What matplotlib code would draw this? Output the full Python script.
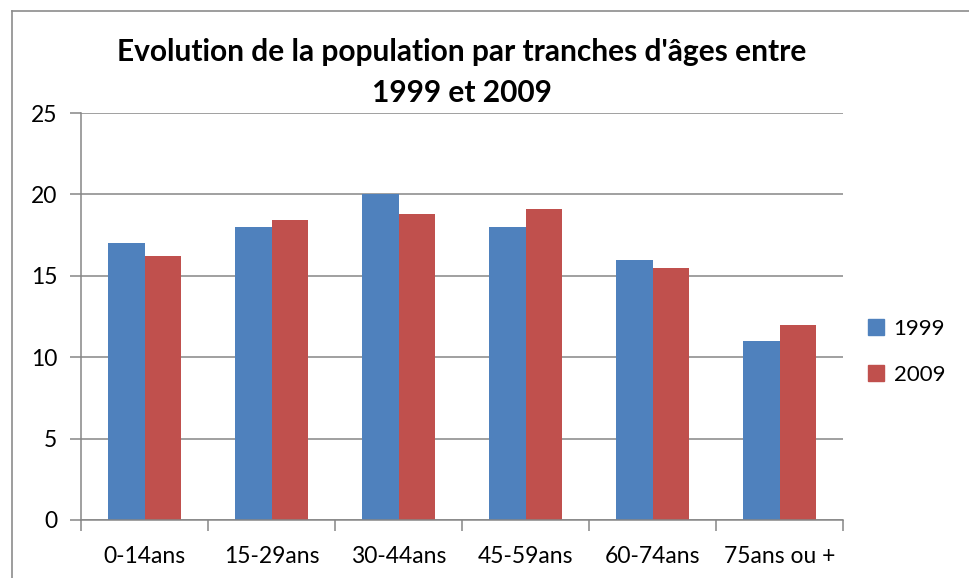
import matplotlib
matplotlib.use('Agg')
import matplotlib.pyplot as plt
import numpy as np
from matplotlib.lines import Line2D
from matplotlib.patches import Patch

plt.rcParams['font.family'] = ['Lato', 'DejaVu Sans']

categories = ['0-14ans', '15-29ans', '30-44ans', '45-59ans', '60-74ans', '75ans ou +']
vals_1999 = [17, 18, 20, 18, 16, 11]
vals_2009 = [16.2, 18.4, 18.8, 19.1, 15.5, 12]
series_names = ['1999', '2009']
colors = ['#4F81BD', '#C0504D']
grey = '#868686'

W, H = 969, 578
fig = plt.figure(figsize=(W / 100, H / 100), dpi=100)
ax = fig.add_axes([81 / W, 1 - 520 / H, (843 - 81) / W, (520 - 113) / H])

x = np.arange(len(categories))
bw = 0.286
ax.bar(x - bw / 2, vals_1999, bw, color=colors[0], zorder=3)
ax.bar(x + bw / 2, vals_2009, bw, color=colors[1], zorder=3)

ax.set_xlim(-0.5, len(categories) - 0.5)
ax.set_ylim(0, 25)
ax.set_yticks(range(0, 26, 5))
ax.set_xticks(x)
ax.set_xticklabels(categories)
ax.set_xticks(np.arange(-0.5, len(categories)), minor=True)
ax.tick_params(axis='x', which='major', length=0, pad=18.5, labelsize=16.5)
ax.tick_params(axis='x', which='minor', length=8, width=1.1, color=grey, direction='out')
ax.tick_params(axis='y', length=8, width=1.1, color=grey, direction='out', pad=9, labelsize=16.5)

ax.grid(axis='y', color=grey, linewidth=1.1, zorder=0)
for s in ['top', 'right']:
    ax.spines[s].set_visible(False)
for s in ['left', 'bottom']:
    ax.spines[s].set_color(grey)
    ax.spines[s].set_linewidth(1.1)
    ax.spines[s].set_zorder(4)

fig.text(0.5 * (81 + 843) / W, 1 - 52 / H, "Evolution de la population par tranches d'âges entre",
         ha='center', va='center', fontsize=21.5, fontweight='bold')
fig.text(0.5 * (81 + 843) / W, 1 - 93 / H, "1999 et 2009",
         ha='center', va='center', fontsize=21.5, fontweight='bold')

handles = [Patch(color=c) for c in colors]
fig.legend(handles, series_names, loc='upper left', bbox_to_anchor=(848 / W, 1 - 299 / H),
           frameon=False, fontsize=16, handlelength=0.7, handleheight=0.7,
           handletextpad=0.45, labelspacing=1.15)

# chart frame
fx, fy = 12 / W, 1 - 11 / H
fig.add_artist(Line2D([fx, fx], [0, fy], color='#8c8c8c', linewidth=1.2))
fig.add_artist(Line2D([fx, 1], [fy, fy], color='#8c8c8c', linewidth=1.2))

fig.savefig('out.png', dpi=100)
